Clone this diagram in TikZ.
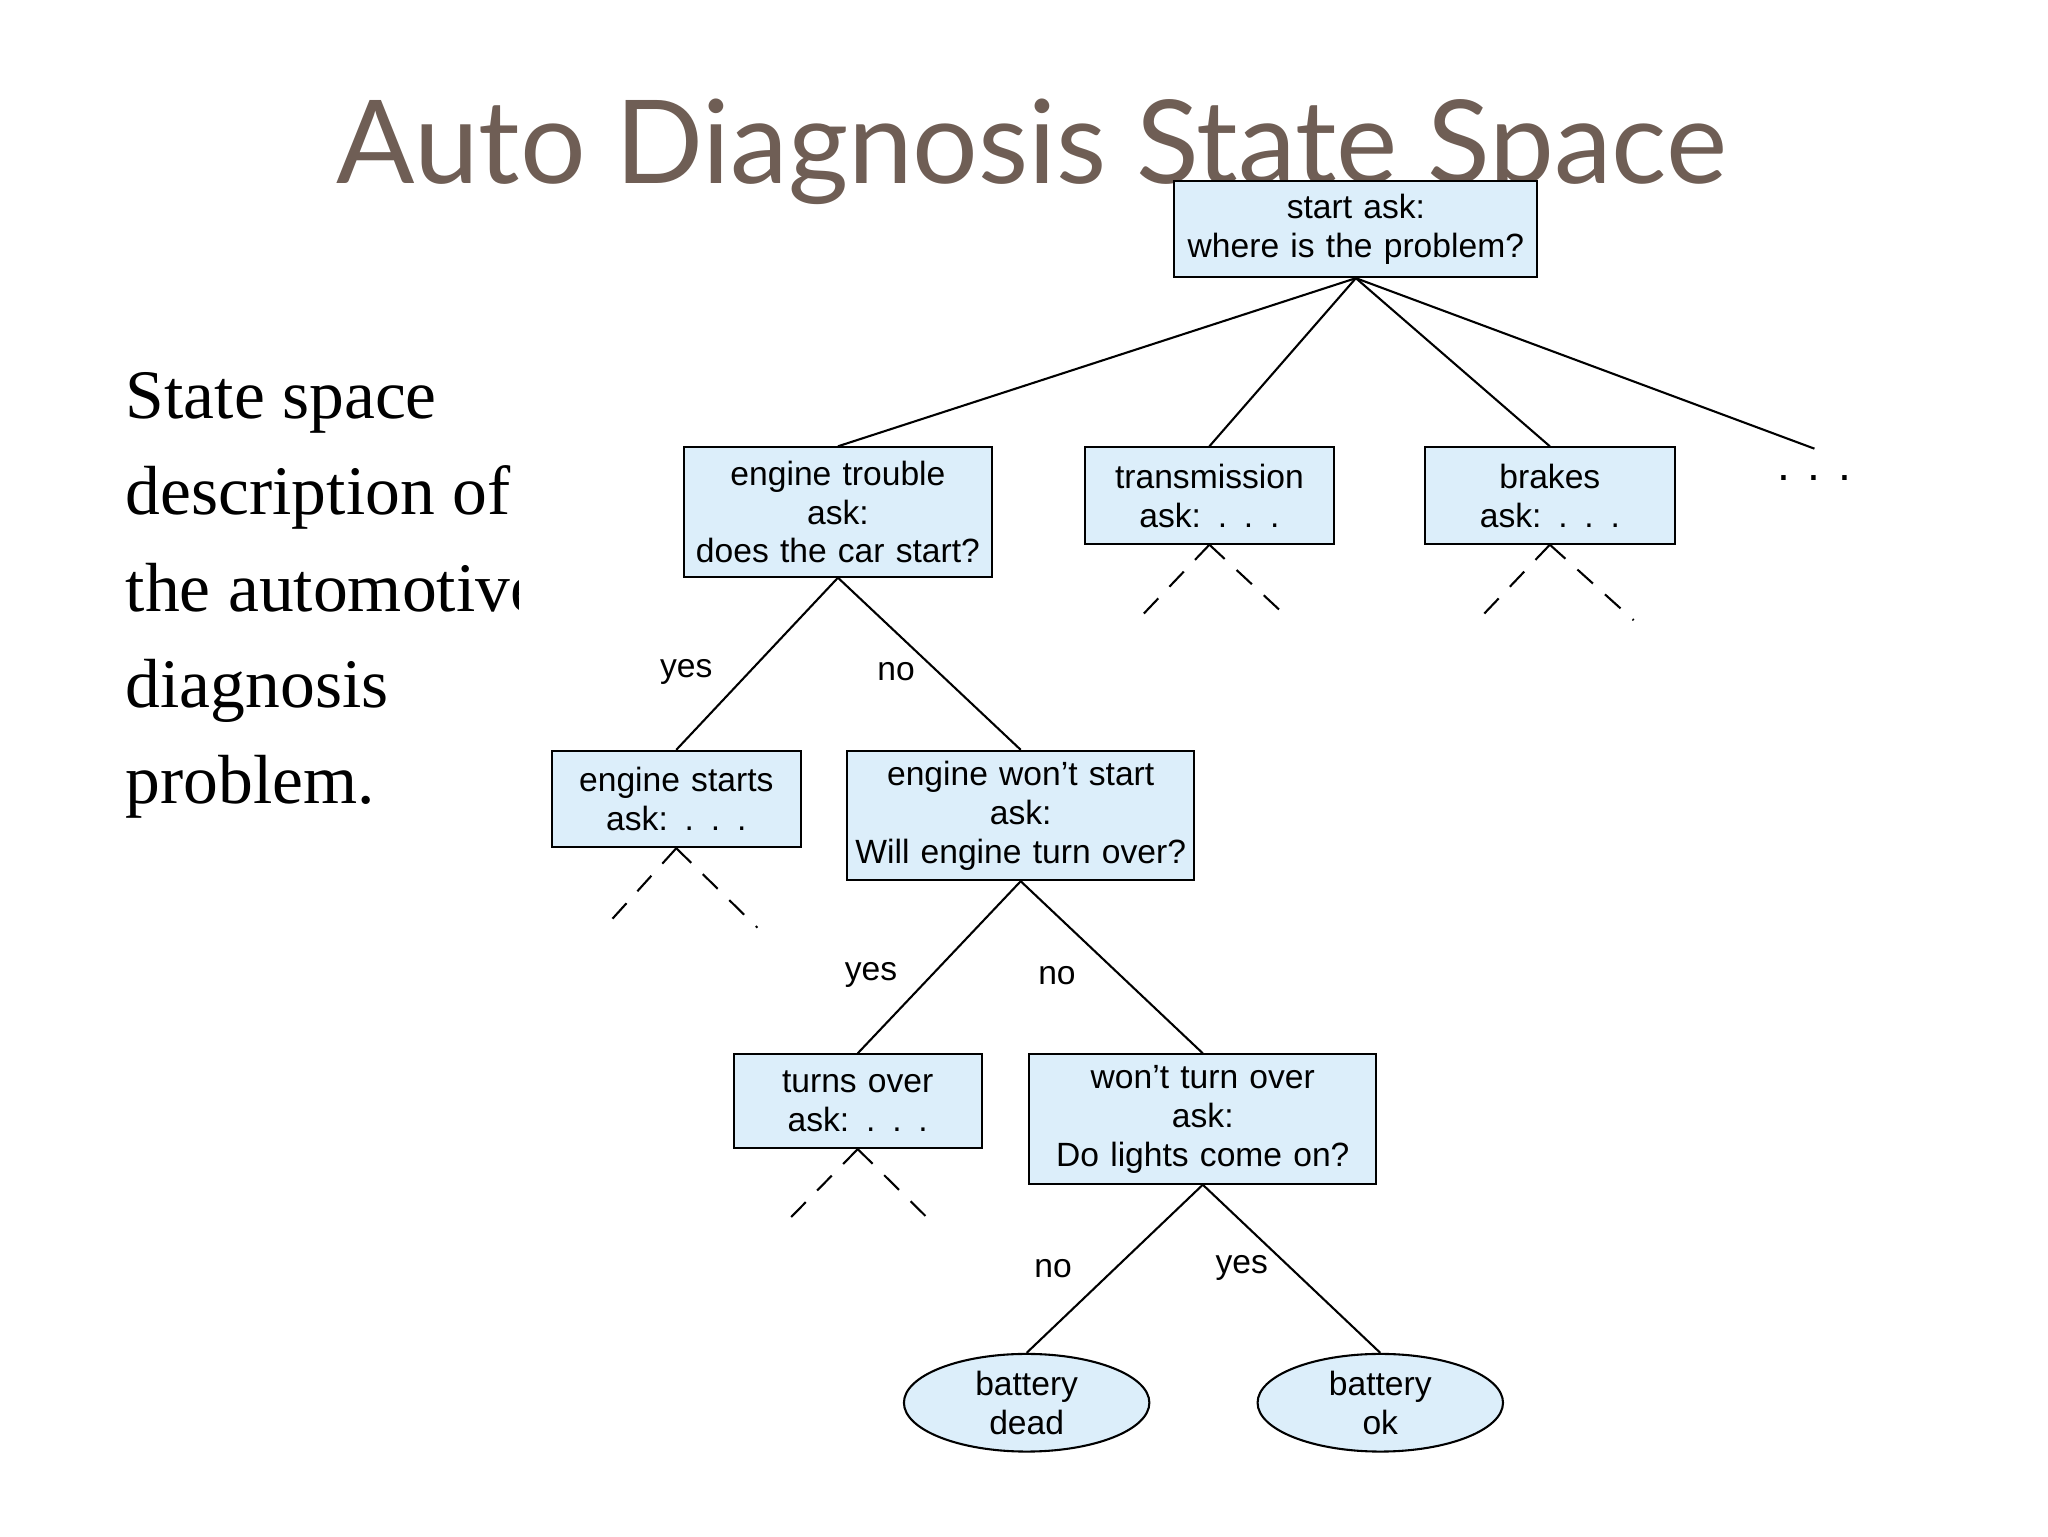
\documentclass[tikz,border=0pt]{standalone}
\usetikzlibrary{shapes.geometric}
\usepackage{fontspec}
\setmainfont{Liberation Sans}
\newfontfamily\titlef{Lato}
\newfontfamily\serif{Liberation Serif}
\definecolor{boxfill}{HTML}{DCEEFA}
\definecolor{titlec}{HTML}{6F5E55}
\begin{document}
\begin{tikzpicture}[x=0.02cm,y=-0.02cm,
  box/.style={draw,fill=boxfill,line width=0.9pt,align=center,inner sep=0pt,font=\fontsize{14.5}{16.8}\selectfont},
  ell/.style={draw,fill=boxfill,ellipse,line width=0.9pt,align=center,inner sep=0pt,font=\fontsize{14.5}{16.8}\selectfont},
  edge/.style={line width=0.9pt},
  dashedge/.style={line width=0.9pt,dash pattern=on 9pt off 7pt},
  lab/.style={font=\fontsize{14.5}{16}\selectfont}]
\useasboundingbox (0,0) rectangle (1552,1164);
\node[font=\titlef\fontsize{50}{56}\selectfont,text=titlec] (title) at (782,115) {Auto Diagnosis State Space};
\begin{scope}
\clip (0,250) rectangle (393,680);
\node[anchor=north west,align=left,font=\serif\fontsize{30}{41.5}\selectfont,inner sep=0pt] (desc) at (95,282)
 {State space\\description of\\the automotive\\diagnosis\\problem.};
\end{scope}
\node[box,text width=275*0.02cm,minimum height=73*0.02cm] (root) at (1027.5,173.5) {start ask:\\where is the problem?};
\node[box,text width=234*0.02cm,minimum height=98*0.02cm] (et) at (635,388) {engine trouble\\ask:\\does the car start?};
\node[box,text width=189*0.02cm,minimum height=73*0.02cm] (tr) at (916.5,375.5) {transmission\\ask: . . .};
\node[box,text width=189*0.02cm,minimum height=73*0.02cm] (br) at (1174.5,375.5) {brakes\\ask: . . .};
\node[font=\fontsize{20}{20}\selectfont] (dots) at (1375,362) {. . .};
\node[box,text width=189*0.02cm,minimum height=73*0.02cm] (es) at (512.5,605.5) {engine starts\\ask: . . .};
\node[box,text width=263*0.02cm,minimum height=98*0.02cm] (ew) at (773.5,618) {engine won't start\\ask:\\Will engine turn over?};
\node[box,text width=188*0.02cm,minimum height=71*0.02cm] (to) at (650,834.5) {turns over\\ask: . . .};
\node[box,text width=263*0.02cm,minimum height=98*0.02cm] (wt) at (911.5,848) {won't turn over\\ask:\\Do lights come on?};
\node[ell,minimum width=186*0.02cm,minimum height=74*0.02cm] (bd) at (778,1063) {battery\\dead};
\node[ell,minimum width=186*0.02cm,minimum height=74*0.02cm] (bo) at (1046,1063) {battery\\ok};
\coordinate (r4) at (1375,340);
\draw[edge] (root.south) -- (et.north);
\draw[edge] (root.south) -- (tr.north);
\draw[edge] (root.south) -- (br.north);
\draw[edge] (root.south) -- (r4);
\draw[edge] (et.south) -- (es.north);
\draw[edge] (et.south) -- (ew.north);
\draw[edge] (ew.south) -- (to.north);
\draw[edge] (ew.south) -- (wt.north);
\draw[edge] (wt.south) -- (bd.north);
\draw[edge] (wt.south) -- (bo.north);
\coordinate (t1) at (862,470); \coordinate (t2) at (978,470);
\coordinate (b1) at (1120,470); \coordinate (b2) at (1238,470);
\coordinate (s1) at (458,703); \coordinate (s2) at (574,703);
\coordinate (o1) at (592,930); \coordinate (o2) at (710,930);
\draw[dashedge] (tr.south) -- (t1); \draw[dashedge] (tr.south) -- (t2);
\draw[dashedge] (br.south) -- (b1); \draw[dashedge] (br.south) -- (b2);
\draw[dashedge] (es.south) -- (s1); \draw[dashedge] (es.south) -- (s2);
\draw[dashedge] (to.south) -- (o1); \draw[dashedge] (to.south) -- (o2);
\node[lab] (l1) at (520,509) {yes};
\node[lab] (l2) at (679,509) {no};
\node[lab] (l3) at (660,739) {yes};
\node[lab] (l4) at (801,739) {no};
\node[lab] (l5) at (798,961) {no};
\node[lab] (l6) at (941,961) {yes};
\end{tikzpicture}
\end{document}
